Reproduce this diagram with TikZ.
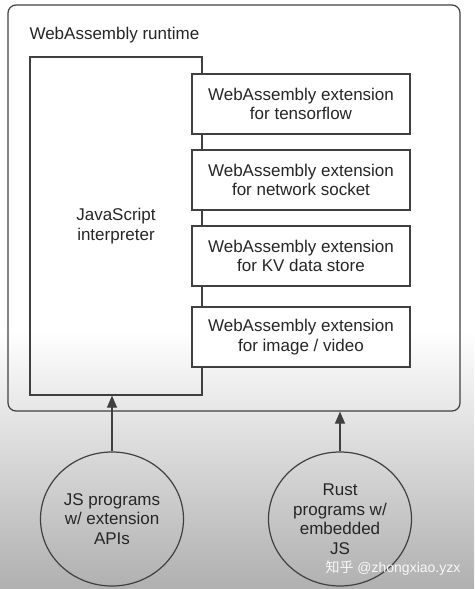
\documentclass[tikz,border=0pt]{standalone}
\usepackage{fontspec}
\setmainfont{Liberation Sans}
\newfontfamily\cjkfont{Noto Sans CJK SC}
\usepackage{tikz}
\usetikzlibrary{arrows.meta,positioning,shapes}

\begin{document}
\begin{tikzpicture}[x = 1pt, y = -1pt,
  line/.style = {draw = black!75, line width = 1.2pt},
  extbox/.style = {line, rectangle, minimum width = 218pt, minimum height = 60pt, inner sep = 0pt, align = center, font = \fontsize{17}{19.5}\selectfont, text = black!85},
  progcircle/.style = {line, ellipse, minimum width = 143pt, minimum height = 134pt, inner sep = 0pt, align = center, font = \fontsize{17}{19.5}\selectfont, text = black!85},
  feed/.style = {line, -{Triangle[length = 12pt, width = 10pt]}}]
\useasboundingbox (0,0) rectangle (474,589);
% background fading to gray at the bottom
\fill[white] (0,0) rectangle (474,330);
\shade[top color = white, bottom color = black!31] (0,330) rectangle (474,589);

\node[line, rectangle, rounded corners = 8pt, minimum width = 452pt, minimum height = 406pt, inner sep = 0pt] (runtime) at (234,208) {};
\node[anchor = base west, font = \fontsize{17}{19.5}\selectfont, text = black!85] (title) at (26,39) {WebAssembly runtime};

\node[extbox, minimum width = 172pt, minimum height = 338pt] (interp) at (116,226) {JavaScript\\interpreter};

\node[extbox, fill = white] (tf) at (301,104) {WebAssembly extension\\for tensorflow};
\node[extbox, fill = white] (net) at (301,180) {WebAssembly extension\\for network socket};
\node[extbox, fill = white] (kv) at (301,256) {WebAssembly extension\\for KV data store};
\node[extbox, fill = white] (img) at (301,337) {WebAssembly extension\\for image / video};

\node[progcircle] (jsprog) at (112,519) {JS programs\\w/ extension\\APIs};
\node[progcircle] (rustprog) at (340,519) {Rust\\programs w/\\embedded\\JS};

\draw[feed] (jsprog.north) -- (jsprog.north |- interp.south);
\draw[feed] (rustprog.north) -- (rustprog.north |- runtime.south);

\node[anchor = west, font = \fontsize{14}{16}\selectfont, text = white, opacity = 0.9] (wmark) at (322,568) {{\cjkfont 知乎} @zhongxiao.yzx};
\end{tikzpicture}
\end{document}
